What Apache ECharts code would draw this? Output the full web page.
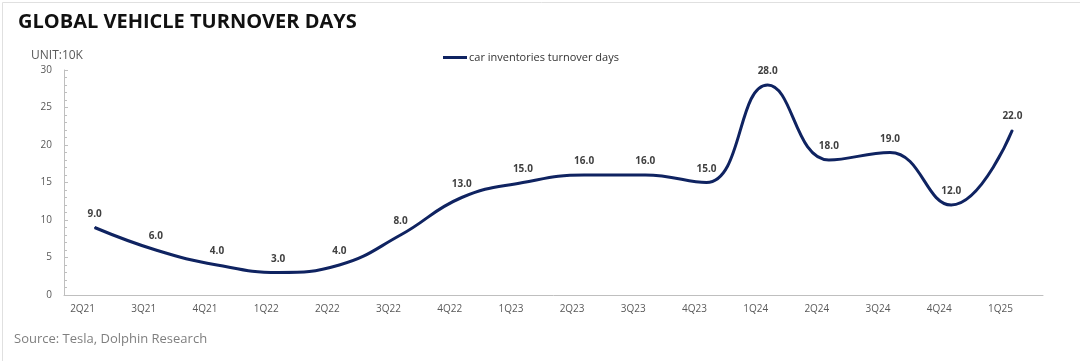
<!DOCTYPE html>
<html>
<head>
<meta charset="utf-8">
<script src="https://cdn.jsdelivr.net/npm/echarts@6/dist/echarts.min.js"></script>
<style>
html,body{margin:0;padding:0;background:#fff;}
#c{width:1080px;height:361px;}
</style>
</head>
<body>
<div id="c"></div>
<script>
const categories = ['2Q21','3Q21','4Q21','1Q22','2Q22','3Q22','4Q22','1Q23','2Q23','3Q23','4Q23','1Q24','2Q24','3Q24','4Q24','1Q25'];
const turnoverDays = [9,6,4,3,4,8,13,15,16,16,15,28,18,19,12,22];
const yTicks = [0,5,10,15,20,25,30];

const chart = echarts.init(document.getElementById('c'));
const font = '"Open Sans", "Noto Sans", sans-serif';
chart.setOption({
  backgroundColor: '#fff',
  animation: false,
  title: [
    {text: 'GLOBAL VEHICLE TURNOVER DAYS', left: 13, top: 7,
     textStyle: {fontFamily: font, fontWeight: 'bold', fontSize: 20, color: '#111'}},
    {text: 'UNIT:10K', left: 26, top: 45,
     textStyle: {fontFamily: font, fontWeight: 'normal', fontSize: 12, color: '#595959'}},
    {text: 'Source: Tesla, Dolphin Research', left: 9, top: 328,
     textStyle: {fontFamily: font, fontWeight: 'normal', fontSize: 13, color: '#7f7f7f'}}
  ],
  legend: {
    top: 47, left: 438,
    itemWidth: 24, itemHeight: 3, itemGap: 4,
    icon: 'rect',
    textStyle: {fontFamily: font, fontSize: 11, color: '#333', padding: [0,0,0,-3]},
    data: ['car inventories turnover days']
  },
  grid: {left: 64, right: 37, top: 70, bottom: 66},
  xAxis: {
    type: 'category',
    data: categories,
    boundaryGap: true,
    axisLine: {lineStyle: {color: '#bfbfbf', width: 1}},
    axisTick: {show: false},
    axisLabel: {fontFamily: font, fontSize: 10, color: '#595959', margin: 9, padding: [0,24,0,0]}
  },
  yAxis: {
    type: 'value',
    min: 0, max: 30, interval: 5,
    axisLine: {show: true, lineStyle: {color: '#bfbfbf'}},
    axisTick: {show: true, inside: true, length: 4, lineStyle: {color: '#bfbfbf'}},
    minorTick: {show: true, splitNumber: 5, length: 3, lineStyle: {color: '#bfbfbf'}},
    splitLine: {show: false},
    axisLabel: {fontFamily: font, fontSize: 10, color: '#595959', margin: 12,
      formatter: v => yTicks.includes(v) ? String(v) : ''}
  },
  series: [{
    name: 'car inventories turnover days',
    type: 'line',
    data: turnoverDays,
    smooth: 0.45,
    showSymbol: true,
    symbol: 'circle',
    symbolSize: 1,
    lineStyle: {color: '#0f2361', width: 3},
    itemStyle: {color: '#0f2361'},
    label: {show: true, position: 'top', distance: 8, fontFamily: font, fontSize: 10,
      fontWeight: 'bold', color: '#404040', formatter: p => p.value.toFixed(1)}
  }],
  graphic: [{
    type: 'rect', left: 0, top: 0, silent: true,
    shape: {x: 0.5, y: 0.5, width: 1078, height: 359},
    style: {fill: 'none', stroke: '#e0e0e0', lineWidth: 1}
  }]
});
</script>
</body>
</html>
